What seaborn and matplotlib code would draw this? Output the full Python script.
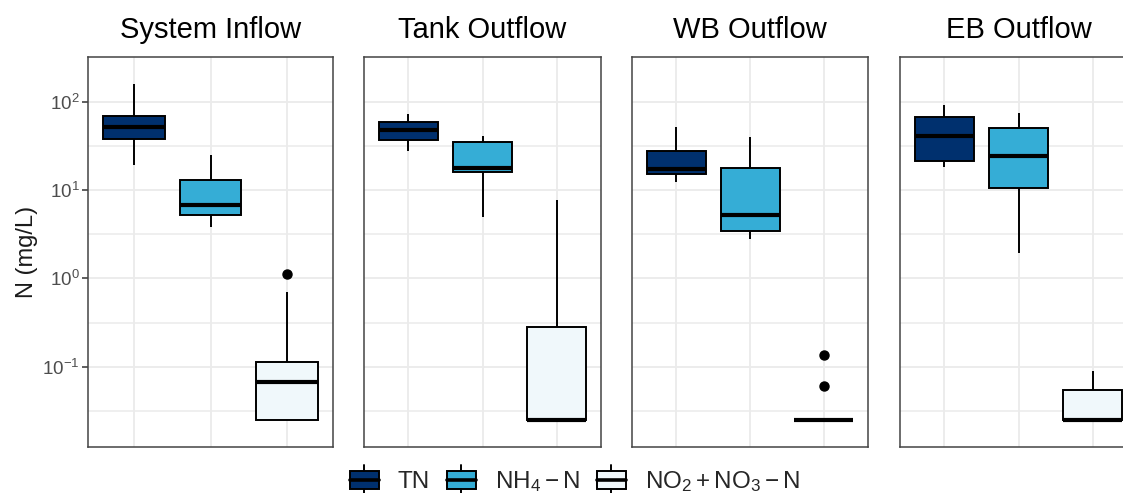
import numpy as np
import pandas as pd
import seaborn as sns
import matplotlib
matplotlib.use('Agg')
import matplotlib.pyplot as plt
from matplotlib.patches import Patch, Rectangle
from matplotlib.lines import Line2D
from matplotlib.legend_handler import HandlerBase
from matplotlib.ticker import FixedLocator, NullFormatter

# values (mg/L), one list per site and species
sites = ["System Inflow", "Tank Outflow", "WB Outflow", "EB Outflow"]
species = ["TN", "NH4", "NOx"]
legend_labels = ["TN", r"$\mathregular{NH_4-N}$", r"$\mathregular{NO_2+NO_3-N}$"]
colors = ["#00306E", "#35ADD6", "#F0F8FB"]

inflow_tn = [19.4, 37.9, 52.0, 68.0, 157.0]
inflow_nh4 = [3.82, 5.17, 6.7, 13.1, 25.0]
inflow_nox = [0.025, 0.025, 0.025, 0.04, 0.0664, 0.09, 0.113, 0.70, 1.12]

tank_tn = [27.9, 37.2, 47.4, 59.5, 72.8]
tank_nh4 = [5.0, 15.9, 17.8, 34.7, 40.5]
tank_nox = [0.025, 0.025, 0.025, 0.282, 7.64]

wb_tn = [12.4, 15.3, 17.5, 27.7, 51.8]
wb_nh4 = [2.82, 3.41, 5.27, 17.6, 39.9]
wb_nox = [0.025, 0.025, 0.025, 0.025, 0.025, 0.025, 0.025, 0.0598, 0.136]

eb_tn = [18.1, 21.5, 40.5, 66.6, 92.0]
eb_nh4 = [1.94, 10.6, 24.5, 50.5, 74.7]
eb_nox = [0.025, 0.025, 0.025, 0.054, 0.090]

groups = {
    "System Inflow": [inflow_tn, inflow_nh4, inflow_nox],
    "Tank Outflow": [tank_tn, tank_nh4, tank_nox],
    "WB Outflow": [wb_tn, wb_nh4, wb_nox],
    "EB Outflow": [eb_tn, eb_nh4, eb_nox],
}

rows = []
for site, lists in groups.items():
    for sp, vals in zip(species, lists):
        for v in vals:
            rows.append((site, sp, v))
df = pd.DataFrame(rows, columns=["site", "species", "value"])

sns.set_theme(style="white")
plt.rcParams['font.family'] = ['Liberation Sans', 'DejaVu Sans']
plt.rcParams['mathtext.fontset'] = 'custom'
plt.rcParams['mathtext.rm'] = 'Liberation Sans'
plt.rcParams['mathtext.it'] = 'Liberation Sans:italic'
plt.rcParams['mathtext.bf'] = 'Liberation Sans:bold'

W, H = 1123, 493
fig = plt.figure(figsize=(W / 100, H / 100), dpi=100)

# panel pixel extents (left, right), top 57, bottom 447
panels = [(88, 333), (364, 601), (632, 868), (900, 1137)]
top_px, bot_px = 57, 447

pal = dict(zip(species, colors))
for i, (site, (l, r)) in enumerate(zip(sites, panels)):
    ax = fig.add_axes([l / W, (H - bot_px) / H, (r - l) / W, (bot_px - top_px) / H])
    sub = df[df["site"] == site]
    sns.boxplot(data=sub, x="species", y="value", hue="species", order=species,
                hue_order=species, palette=pal, saturation=1, width=0.8,
                linewidth=1.4, linecolor="black", showcaps=False, log_scale=True,
                legend=False, ax=ax,
                medianprops=dict(linewidth=3.0, color="black"),
                flierprops=dict(marker="o", markerfacecolor="black",
                                markeredgecolor="black", markersize=6.5))
    ax.set_xlim(-0.6, 2.6)
    ax.set_ylim(10 ** -1.909, 10 ** 2.506)
    ax.yaxis.set_major_locator(FixedLocator([0.1, 1, 10, 100]))
    ax.yaxis.set_minor_locator(FixedLocator([10 ** -1.5, 10 ** -0.5, 10 ** 0.5, 10 ** 1.5]))
    ax.yaxis.set_minor_formatter(NullFormatter())
    ax.set_axisbelow(True)
    ax.grid(True, which="major", color="#EBEBEB", linewidth=1.3)
    ax.grid(True, which="minor", axis="y", color="#EBEBEB", linewidth=1.1)
    ax.tick_params(axis="x", length=0, labelbottom=False)
    ax.tick_params(axis="y", which="minor", length=0)
    if i == 0:
        ax.set_yticklabels([r"$\mathregular{10^{-1}}$", r"$\mathregular{10^{0}}$",
                            r"$\mathregular{10^{1}}$", r"$\mathregular{10^{2}}$"])
        ax.tick_params(axis="y", which="major", length=4, width=1.1, color="#333333",
                       labelsize=13.5, labelcolor="#4D4D4D", pad=2, left=True)
    else:
        ax.tick_params(axis="y", which="major", length=0, labelleft=False)
    for s in ax.spines.values():
        s.set_color("#444444")
        s.set_linewidth(1.1)
    ax.set_xlabel("")
    ax.set_ylabel("")
    ax.set_title(site, fontsize=21, pad=14, color="black")

fig.text(27 / W, (H - 252) / H, "N (mg/L)", rotation=90, ha="center", va="center",
         fontsize=17, color="#1A1A1A")


class BoxKey(HandlerBase):
    # boxplot-like legend key: box, median bar and whisker stubs
    def create_artists(self, legend, orig, xd, yd, w, h, fs, trans):
        fc = orig.get_facecolor()
        x0 = -xd
        c = -yd + h / 2
        bh, sh = 6.5, 10.8
        box = Rectangle((x0, c - bh), w, 2 * bh, facecolor=fc,
                        edgecolor="black", lw=1.4, transform=trans)
        med = Line2D([x0, x0 + w], [c, c], color="black", lw=2.6, transform=trans)
        top = Line2D([x0 + w / 2] * 2, [c + bh, c + sh], color="black", lw=1.4, transform=trans)
        bot = Line2D([x0 + w / 2] * 2, [c - sh, c - bh], color="black", lw=1.4, transform=trans)
        return [box, med, top, bot]


handles = [Patch(facecolor=c) for c in colors]
fig.legend(handles, legend_labels, handler_map={Patch: BoxKey()}, ncol=3,
           loc="center", bbox_to_anchor=(575 / W, 12 / H), frameon=False,
           fontsize=17.5, handlelength=1.19, handleheight=1.2, handletextpad=0.78,
           columnspacing=0.7, borderpad=0)

fig.savefig("out.png", dpi=100)
